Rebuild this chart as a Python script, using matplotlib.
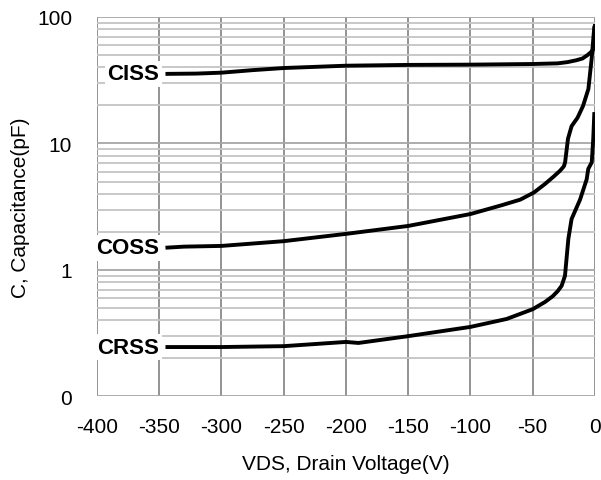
import matplotlib
matplotlib.use('Agg')
import matplotlib.pyplot as plt
from matplotlib.ticker import FixedLocator, LogLocator, NullFormatter

plt.rcParams['font.family'] = ['Liberation Sans', 'DejaVu Sans']

# values (V, pF)
ciss_v = [-345, -320, -300, -275, -250, -200, -150, -100, -50, -30, -22, -15, -10, -6, -3, -1, -0.4, 0]
ciss_c = [35.5, 35.7, 36.3, 38, 39.5, 41.2, 41.8, 42, 42.5, 43, 44, 45.5, 47, 50, 53, 56, 60, 88]

coss_v = [-345, -330, -300, -250, -200, -150, -100, -75, -60, -49, -40, -33, -28, -25,
          -24, -21.7, -18.8, -14, -9.6, -5.3, -2.7, -0.5]
coss_c = [1.5, 1.53, 1.55, 1.69, 1.93, 2.23, 2.77, 3.25, 3.6, 4.1, 4.8, 5.5, 6.1, 6.6,
          7.1, 10.9, 13.7, 16, 19.8, 27, 46.6, 85]

crss_v = [-345, -300, -250, -200, -190, -150, -100, -71, -50, -40, -34, -30, -26.8, -24.1,
          -21.4, -18.8, -12, -6.7, -5.4, -2.6, -1.4, -0.5]
crss_c = [0.246, 0.246, 0.25, 0.27, 0.265, 0.30, 0.355, 0.41, 0.49, 0.56, 0.62, 0.68, 0.75,
          0.90, 1.76, 2.53, 3.6, 5.2, 6.3, 7.1, 10.9, 17.7]

x_ticks = [-400, -350, -300, -250, -200, -150, -100, -50, 0]
y_ticks = [0.1, 1, 10, 100]
y_labels = ['0', '1', '10', '100']

fig = plt.figure(figsize=(6.01, 4.81), dpi=100)
ax = fig.add_axes([0.1614, 0.1736, 0.8286, 0.789])

ax.set_yscale('log')
ax.set_xlim(-400, 0)
ax.set_ylim(0.1, 100)

ax.set_xticks(x_ticks)
ax.set_xticklabels([str(t) for t in x_ticks])
ax.yaxis.set_major_locator(FixedLocator(y_ticks))
ax.set_yticklabels(y_labels)
ax.yaxis.set_minor_locator(LogLocator(base=10, subs=range(2, 10)))
ax.yaxis.set_minor_formatter(NullFormatter())

ax.grid(True, axis='y', which='minor', color='#c4c4c4', lw=1.3)
ax.grid(True, axis='y', which='major', color='#a6a6a6', lw=1.3)
ax.grid(True, axis='x', which='major', color='#8a8a8a', lw=1.3)
ax.set_axisbelow(True)
for s in ax.spines.values():
    s.set_visible(False)
ax.tick_params(which='both', length=0)
ax.tick_params(axis='x', labelsize=15, pad=15)
ax.tick_params(axis='y', labelsize=15, pad=18)

for v, c in [(ciss_v, ciss_c), (coss_v, coss_c), (crss_v, crss_c)]:
    ax.plot(v, c, color='black', lw=2.8, solid_capstyle='butt', zorder=3)

for name, v, c in [('CISS', ciss_v, ciss_c), ('COSS', coss_v, coss_c), ('CRSS', crss_v, crss_c)]:
    ax.text(v[0] - 5, c[0], name, ha='right', va='center', fontsize=16,
            fontweight='bold', zorder=4, clip_on=False,
            bbox=dict(facecolor='white', edgecolor='none', pad=2))

ax.set_xlabel('VDS, Drain Voltage(V)', fontsize=15, labelpad=13)
ax.set_ylabel('C, Capacitance(pF)', fontsize=15, labelpad=5)

fig.savefig('out.png', dpi=100)
